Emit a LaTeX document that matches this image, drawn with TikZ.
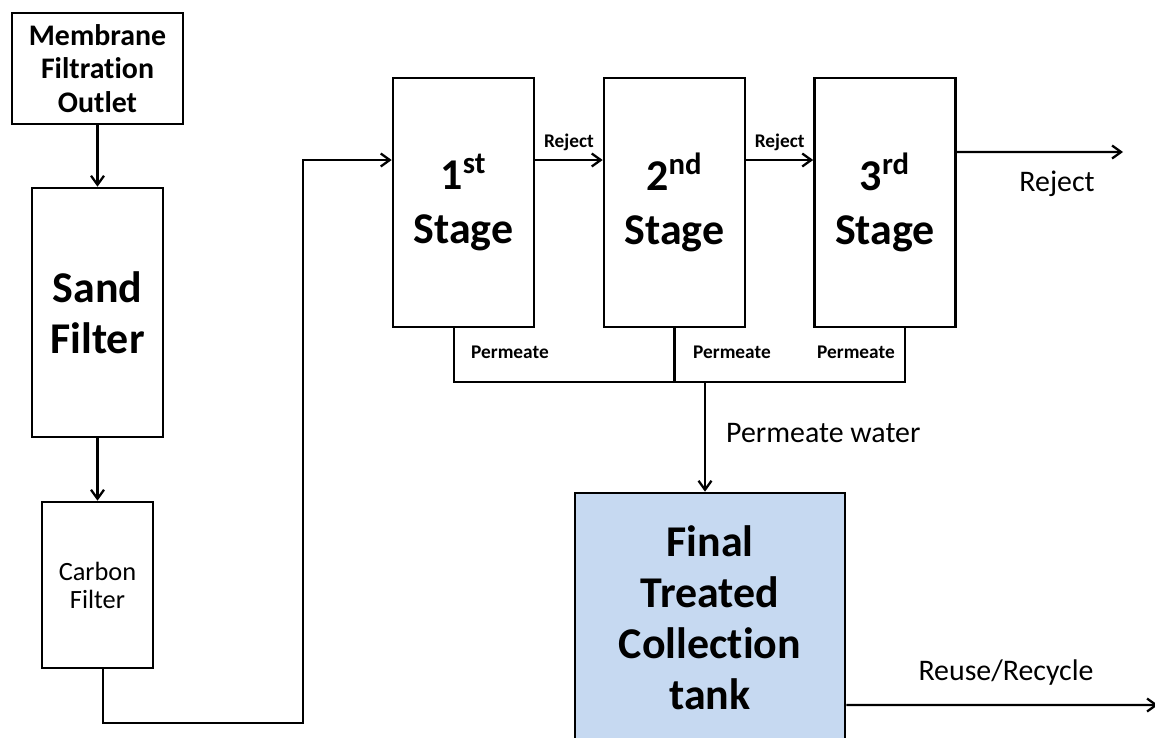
\documentclass[tikz,border=0pt]{standalone}
\usepackage{fontspec}
\setmainfont{Carlito}[Ligatures=NoCommon]
\usetikzlibrary{arrows.meta, positioning}
\definecolor{cInk}{HTML}{000000}
\definecolor{cTank}{HTML}{C6D9F1}
\tikzset{
  unit/.style={rectangle, draw=cInk, line width=1.5pt, align=center, text=cInk, inner sep=2pt},
  pre/.style={unit, font=\bfseries\fontsize{17}{19}\selectfont, minimum width=3.42cm, minimum height=2.22cm},
  filt/.style={unit, font=\bfseries\fontsize{25}{29}\selectfont, minimum width=2.62cm, minimum height=4.98cm},
  cfilt/.style={unit, font=\fontsize{15}{16}\selectfont, minimum width=2.22cm, minimum height=3.32cm},
  stg/.style={unit, font=\bfseries\fontsize{25}{31}\selectfont, minimum width=2.82cm, minimum height=4.98cm},
  tank/.style={unit, fill=cTank, font=\bfseries\fontsize{25}{29}\selectfont, minimum width=5.4cm, minimum height=5.0cm},
  flow/.style={-{Straight Barb[length=1.8mm, width=2.6mm]}, line width=1.3pt, draw=cInk},
  pipe/.style={line width=1.3pt, draw=cInk},
  small/.style={font=\bfseries\fontsize{11}{12}\selectfont, text=cInk},
  lab/.style={font=\fontsize{17}{19}\selectfont, text=cInk},
}

\begin{document}
\begin{tikzpicture}
  \useasboundingbox (0,0) rectangle (23.1,-14.74);

  % ---- pre-treatment column
  \node[pre]   (outlet) at (1.95,-1.37)  {Membrane\\ Filtration\\ Outlet};
  \node[filt]  (sand)   at (1.95,-6.25)  {Sand\\ Filter};
  \node[cfilt] (carbon) at (1.95,-11.70) {Carbon\\ Filter};
  \draw[flow] (outlet) -- (sand);
  \draw[flow] (sand) -- (carbon);

  % ---- RO stages
  \node[stg] (st1) at (9.27,-4.05)  {1\textsuperscript{st}\\ Stage};
  \node[stg] (st2) at (13.49,-4.05) {2\textsuperscript{nd}\\ Stage};
  \node[stg] (st3) at (17.70,-4.05) {3\textsuperscript{rd}\\ Stage};

  \coordinate (loopb) at (6.06,-14.46);
  \draw[flow] ([xshift=0.11cm]carbon.south) |- (loopb) |- ([yshift=0.85cm]st1.west);

  \draw[flow] ([yshift=0.85cm]st1.east) -- ([yshift=0.85cm]st2.west)
    node[small, midway, above=0.5mm] {Reject};
  \draw[flow] ([yshift=0.85cm]st2.east) -- ([yshift=0.85cm]st3.west)
    node[small, midway, above=0.5mm] {Reject};
  \coordinate (rejout) at (22.46,-3.04);
  \draw[flow] ([yshift=1.01cm]st3.east) -- (rejout);
  \node[lab] at (21.14,-3.68) {Reject};

  % ---- permeate collector
  \coordinate (coll) at (14.10,-7.64);
  \draw[pipe] ([xshift=-0.19cm]st1.south) |- ([xshift=0.4cm]st3.south |- coll) -- ([xshift=0.4cm]st3.south);
  \draw[pipe] (st2.south) -- (st2.south |- coll);
  \node[small, anchor=west] at (9.30,-7.04)  {Permeate};
  \node[small, anchor=west] at (13.74,-7.04) {Permeate};
  \node[small, anchor=east] at (18.02,-7.04) {Permeate};

  % ---- collection tank
  \node[tank] (tank) at (14.2,-12.36) {Final\\ Treated\\ Collection\\ tank};
  \draw[flow] (coll) -- (coll |- tank.north);
  \node[lab, anchor=west] at (14.40,-8.66) {Permeate water};

  \coordinate (reuse) at (23.16,-14.1);
  \draw[flow] ([yshift=-1.74cm]tank.east) -- (reuse);
  \node[lab] at (20.12,-13.46) {Reuse/Recycle};
\end{tikzpicture}
\end{document}
